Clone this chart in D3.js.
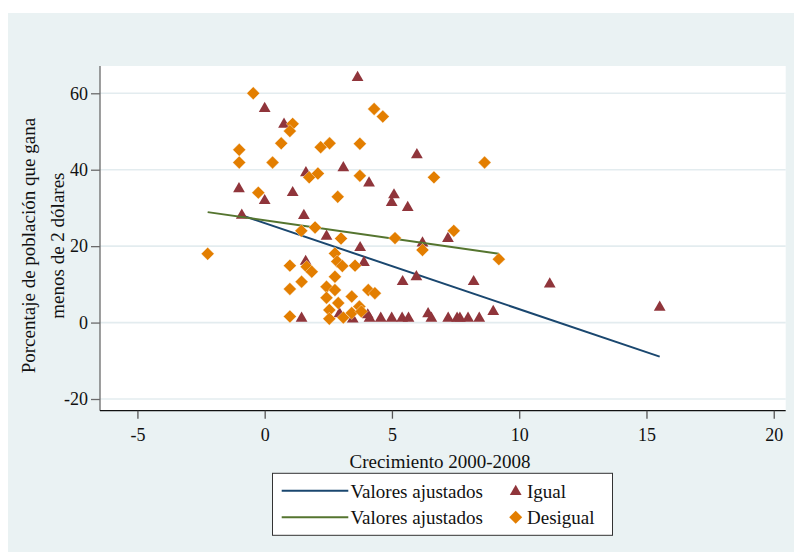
<!DOCTYPE html>
<html>
<head>
<meta charset="utf-8">
<script src="https://cdn.jsdelivr.net/npm/d3@7"></script>
<style>
  body { margin: 0; background: #fff; }
  text { font-family: "Liberation Serif", "Times New Roman", serif; fill: #111; }
</style>
</head>
<body>
<div id="chart"></div>
<script>
// crecimiento 2000-2008 (x) vs porcentaje bajo 2 dolares (y), paises "Igual"
var igualX = [3.65, 0.0, 0.76, 5.98, 3.09, 1.62, 4.10, -1.01, 1.10, 5.08, 0.0, 4.99, 5.62, -0.90, 1.54,
  2.43, 7.20, 6.20, 3.75, 1.61, 3.90, 5.96, 5.42, 8.21, 11.20, 15.52, 8.98, 2.94, 6.42, 4.05,
  1.45, 3.46, 4.12, 4.56, 4.99, 5.40, 5.65, 6.55, 7.21, 7.56, 7.67, 7.99, 8.43];
var igualY = [64.3, 56.2, 52.1, 44.1, 40.7, 39.4, 36.7, 35.2, 34.2, 33.6, 32.1, 31.6, 30.3, 28.3, 28.2,
  22.8, 22.2, 21.0, 19.8, 16.2, 15.9, 12.2, 10.9, 10.9, 10.3, 4.2, 3.1, 2.5, 2.5, 2.2,
  1.3, 1.1, 1.3, 1.3, 1.3, 1.3, 1.3, 1.3, 1.3, 1.3, 1.3, 1.3, 1.3];

// paises "Desigual"
var desigualX = [-0.45, 4.30, 4.64, 1.10, 0.99, 0.65, 2.20, 2.55, 3.74, -1.0, -1.0, 0.31, 1.75, 2.09, 3.74,
  -0.25, 2.87, 1.44, 1.98, 3.0, 5.12, -2.24, 8.64, 6.65, 7.43, 6.20, 9.20,
  0.99, 1.65, 1.85, 1.45, 0.99, 0.99, 2.76, 2.85, 3.05, 3.55, 2.76, 2.43, 2.76, 2.43,
  2.89, 3.42, 4.07, 4.33, 2.54, 2.54, 3.09, 3.42, 3.72, 3.80];
var desigualY = [60.0, 55.9, 53.9, 52.0, 50.1, 46.9, 45.9, 46.9, 46.8, 45.2, 41.9, 41.9, 38.0, 39.0, 38.4,
  34.0, 32.9, 24.0, 24.9, 22.0, 22.1, 18.0, 41.9, 38.0, 24.0, 19.0, 16.6,
  14.9, 14.6, 13.3, 10.7, 8.8, 1.6, 18.1, 16.0, 14.8, 14.9, 12.0, 9.4, 8.5, 6.5,
  5.1, 6.8, 8.5, 7.7, 3.3, 1.0, 1.3, 2.5, 4.2, 2.9];

// valores ajustados: extremos de cada recta
var fitIgualX = [-1.01, 15.52];
var fitIgualY = [28.3, -8.9];
var fitDesigualX = [-2.24, 9.20];
var fitDesigualY = [28.9, 18.0];

var xTicks = [-5, 0, 5, 10, 15, 20];
var yTicks = [-20, 0, 20, 40, 60];

var legendLabels = ["Valores ajustados", "Igual", "Valores ajustados", "Desigual"];

var colors = { navy: "#1a476f", maroon: "#90353b", green: "#55752f", orange: "#e37e00" };

function drawChart() {
  var W = 794, H = 553;
  var plot = { left: 100, right: 785.7, top: 66, bottom: 410.7 };

  var svg = d3.select("#chart").append("svg")
      .attr("width", W)
      .attr("height", H);

  // graph region
  svg.append("rect")
    .attr("x", 8).attr("y", 13)
    .attr("width", W - 8).attr("height", 539)
    .attr("fill", "#eaf2f3");

  // plot region
  svg.append("rect")
    .attr("x", plot.left).attr("y", plot.top)
    .attr("width", plot.right - plot.left).attr("height", plot.bottom - plot.top)
    .attr("fill", "#fff");

  var x = d3.scaleLinear().domain([-6.47, 20.47]).range([plot.left, plot.right]);
  var y = d3.scaleLinear().domain([-23.06, 67.14]).range([plot.bottom, plot.top]);

  // plain hyphen for negatives, like the original
  var fmt = function(d) { return String(d); };

  // grid lines
  svg.append("g").selectAll("line")
      .data(yTicks)
    .enter().append("line")
      .attr("x1", plot.left).attr("x2", plot.right)
      .attr("y1", function(d) { return y(d); })
      .attr("y2", function(d) { return y(d); })
      .attr("stroke", "#e3ecef")
      .attr("stroke-width", 1.6);

  // y axis
  var yAxis = svg.append("g")
      .attr("transform", "translate(" + plot.left + ",0)")
      .call(d3.axisLeft(y).tickValues(yTicks).tickFormat(fmt).tickSize(9).tickPadding(3).tickSizeOuter(0));
  yAxis.select(".domain").attr("stroke", "#6a6a6a").attr("stroke-width", 1.3)
    .attr("d", "M0," + plot.top + "V" + plot.bottom);
  yAxis.selectAll(".tick line").attr("stroke", "#6a6a6a").attr("stroke-width", 1.3);
  yAxis.selectAll(".tick text")
    .attr("font-family", "Liberation Serif").attr("font-size", 18).attr("fill", "#111");

  // x axis
  var xAxis = svg.append("g")
      .attr("transform", "translate(0," + plot.bottom + ")")
      .call(d3.axisBottom(x).tickValues(xTicks).tickFormat(fmt).tickSize(8).tickPadding(10).tickSizeOuter(0));
  xAxis.select(".domain").attr("stroke", "#111").attr("stroke-width", 1.3)
    .attr("d", "M" + plot.left + ",0H" + plot.right);
  xAxis.selectAll(".tick line").attr("stroke", "#555").attr("stroke-width", 1.3);
  xAxis.selectAll(".tick text")
    .attr("font-family", "Liberation Serif").attr("font-size", 18).attr("fill", "#111");

  // axis titles
  svg.append("text")
    .attr("x", 440).attr("y", 468)
    .attr("text-anchor", "middle")
    .attr("font-size", 19)
    .text("Crecimiento 2000-2008");

  var yTitle = svg.append("text")
    .attr("transform", "translate(35,245.6) rotate(-90)")
    .attr("text-anchor", "middle")
    .attr("font-size", 19);
  yTitle.append("tspan").attr("x", 0).attr("y", 0).text("Porcentaje de población que gana");
  yTitle.append("tspan").attr("x", 0).attr("y", 29).text("menos de 2 dólares");

  var line = d3.line()
    .x(function(d) { return x(d[0]); })
    .y(function(d) { return y(d[1]); });

  var triangle = d3.symbol().type(d3.symbolTriangle).size(60);
  var diamond = d3.symbol().type(d3.symbolSquare).size(84);

  // 1. fitted line igual
  svg.append("path")
    .datum(d3.zip(fitIgualX, fitIgualY))
    .attr("d", line)
    .attr("fill", "none")
    .attr("stroke", colors.navy)
    .attr("stroke-width", 2);

  // 2. igual markers
  svg.append("g").selectAll("path")
      .data(d3.zip(igualX, igualY))
    .enter().append("path")
      .attr("d", triangle)
      .attr("transform", function(d) { return "translate(" + x(d[0]) + "," + (y(d[1]) + 0.8) + ")"; })
      .attr("fill", colors.maroon);

  // 3. fitted line desigual
  svg.append("path")
    .datum(d3.zip(fitDesigualX, fitDesigualY))
    .attr("d", line)
    .attr("fill", "none")
    .attr("stroke", colors.green)
    .attr("stroke-width", 2);

  // 4. desigual markers
  svg.append("g").selectAll("path")
      .data(d3.zip(desigualX, desigualY))
    .enter().append("path")
      .attr("d", diamond)
      .attr("transform", function(d) { return "translate(" + x(d[0]) + "," + y(d[1]) + ") rotate(45)"; })
      .attr("fill", colors.orange)
      .attr("stroke", "#fff")
      .attr("stroke-width", 0.5)
      .attr("stroke-opacity", 0.7);

  // legend
  var lg = svg.append("g");
  lg.append("rect")
    .attr("x", 272.5).attr("y", 473.3)
    .attr("width", 340).attr("height", 62)
    .attr("fill", "#fff")
    .attr("stroke", "#333")
    .attr("stroke-width", 1);

  var rows = [490.7, 517.3];
  var lineColors = [colors.navy, colors.green];
  rows.forEach(function(ry, i) {
    lg.append("line")
      .attr("x1", 281.7).attr("x2", 348.3)
      .attr("y1", ry).attr("y2", ry)
      .attr("stroke", lineColors[i])
      .attr("stroke-width", 2);
    lg.append("text")
      .attr("x", 350.5).attr("y", ry + 7)
      .attr("font-size", 19)
      .text(legendLabels[i * 2]);
    lg.append("text")
      .attr("x", 527).attr("y", ry + 7)
      .attr("font-size", 19)
      .text(legendLabels[i * 2 + 1]);
  });
  lg.append("path")
    .attr("d", triangle)
    .attr("transform", "translate(515.7," + (rows[0] + 0.8) + ")")
    .attr("fill", colors.maroon);
  lg.append("path")
    .attr("d", diamond)
    .attr("transform", "translate(515.7," + rows[1] + ") rotate(45)")
    .attr("fill", colors.orange);
}

drawChart();
</script>
</body>
</html>
